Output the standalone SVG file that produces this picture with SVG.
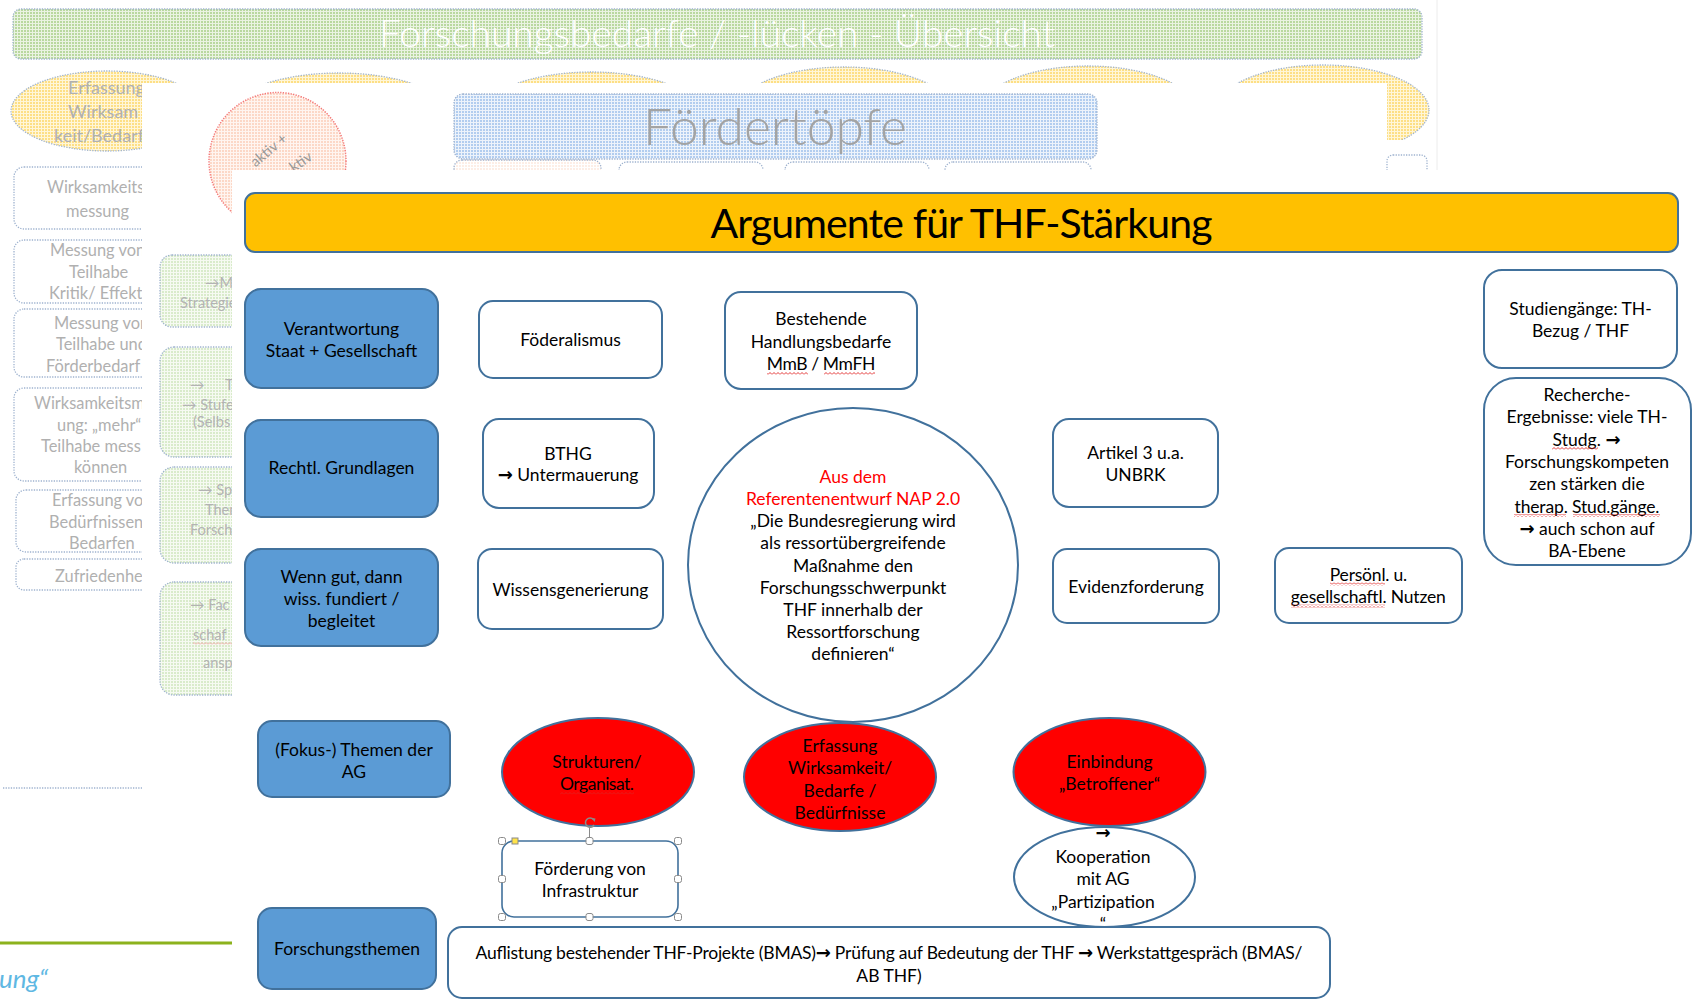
<svg xmlns="http://www.w3.org/2000/svg" width="1694" height="1001" viewBox="0 0 1694 1001">
<defs>
<style>
.t{font-family:Lato,'Liberation Sans','DejaVu Sans',sans-serif;font-size:17.5px;fill:#000;text-anchor:middle}
.red{fill:#FF0000}
.ar{font-family:'DejaVu Sans',sans-serif;font-size:18px;font-weight:bold}
.bt{font-family:Lato,'Liberation Sans','DejaVu Sans',sans-serif;font-size:16.4px;fill:#b0b0b0}
.gt{font-family:Lato,'Liberation Sans','DejaVu Sans',sans-serif;font-size:14.5px;fill:#b3b3b3}
.nb{fill:#5B9BD5;stroke:#41719C;stroke-width:2}
.nw{fill:#fff;stroke:#41719C;stroke-width:2}
.nr{fill:#FF0000;stroke:#41719C;stroke-width:2}
.dot{stroke:#9fb3cf;stroke-width:1.3;stroke-dasharray:1.3 1.3}
.sq{fill:url(#wavy)}
.hd{fill:#fff;stroke:#8a8a8a;stroke-width:1}
</style>
<pattern id="pG" width="3" height="3" patternUnits="userSpaceOnUse"><rect width="3" height="3" fill="#eaf3e2"/><rect width="2" height="2" fill="#b9d89f"/></pattern>
<pattern id="pY" width="3" height="3" patternUnits="userSpaceOnUse"><rect width="3" height="3" fill="#fff6d8"/><rect width="2" height="2" fill="#fddf85"/></pattern>
<pattern id="pB" width="3" height="3" patternUnits="userSpaceOnUse"><rect width="3" height="3" fill="#edf3fb"/><rect width="2" height="2" fill="#b2cdef"/></pattern>
<pattern id="pP" width="3" height="3" patternUnits="userSpaceOnUse"><rect width="3" height="3" fill="#fff5f0"/><rect width="2" height="2" fill="#fcd8c7"/></pattern>
<pattern id="pP2" width="3" height="3" patternUnits="userSpaceOnUse"><rect width="3" height="3" fill="#fff"/><rect width="2" height="2" fill="#fdeee6"/></pattern>
<pattern id="pL" width="3" height="3" patternUnits="userSpaceOnUse"><rect width="3" height="3" fill="#f6faf2"/><rect width="2" height="2" fill="#d9ebcb"/></pattern>
<pattern id="wavy" width="4" height="3" patternUnits="userSpaceOnUse"><path d="M0 2.5 L2 0.5 L4 2.5" fill="none" stroke="#e02020" stroke-width="0.9"/></pattern>
<pattern id="wavyF" width="4" height="3" patternUnits="userSpaceOnUse"><path d="M0 2.5 L2 0.5 L4 2.5" fill="none" stroke="#f3a5a5" stroke-width="0.9"/></pattern>
<clipPath id="cpL"><rect x="0" y="0" width="142" height="1001"/></clipPath>
<clipPath id="cpG"><rect x="0" y="0" width="232" height="1001"/></clipPath>
</defs>
<rect width="1694" height="1001" fill="#fff"/>

<g id="background">
  <g id="bg-banner">
    <rect x="13" y="9" width="1409" height="50" rx="8" fill="url(#pG)" class="dot"/>
    <text x="717" y="47" font-family="Lato,'Liberation Sans',sans-serif" font-size="37" font-weight="300" fill="#fff" text-anchor="middle" textLength="676" lengthAdjust="spacingAndGlyphs">Forschungsbedarfe / -lücken - Übersicht</text>
  </g>
  <g id="bg-ellipses">
    <ellipse cx="339" cy="118" rx="114" ry="45" fill="url(#pY)" class="dot"/>
    <ellipse cx="591.5" cy="117" rx="112" ry="45" fill="url(#pY)" class="dot"/>
    <ellipse cx="844" cy="112" rx="108" ry="45" fill="url(#pY)" class="dot"/>
    <ellipse cx="1088" cy="111" rx="107" ry="45" fill="url(#pY)" class="dot"/>
    <ellipse cx="1323" cy="110" rx="106" ry="45" fill="url(#pY)" class="dot"/>
    <ellipse cx="107" cy="111" rx="96" ry="40" fill="url(#pY)" class="dot"/>
    <g clip-path="url(#cpL)">
      <text class="bt" style="font-size:18px" x="68" y="94">Erfassung</text>
      <text class="bt" style="font-size:18px" x="68" y="118">Wirksam</text>
      <text class="bt" style="font-size:18px" x="54" y="142">keit/Bedarf</text>
    </g>
  </g>
  <g id="bg-left-boxes" clip-path="url(#cpL)">
    <rect x="14" y="167" width="220" height="62" rx="10" fill="#fff" class="dot"/>
    <text class="bt" x="47" y="193">Wirksamkeits</text>
    <text class="bt" x="66" y="216.5">messung</text>
    <rect x="14" y="240" width="220" height="63" rx="10" fill="#fff" class="dot"/>
    <text class="bt" x="50" y="256">Messung von</text>
    <text class="bt" x="69" y="277.5">Teilhabe</text>
    <text class="bt" x="49" y="299">Kritik/ Effekte</text>
    <rect x="14" y="309" width="220" height="68" rx="10" fill="#fff" class="dot"/>
    <text class="bt" x="54" y="328.5">Messung von</text>
    <text class="bt" x="56" y="350">Teilhabe und</text>
    <text class="bt" x="46" y="371.5">Förderbedarf</text>
    <rect x="14" y="388" width="220" height="93" rx="10" fill="#fff" class="dot"/>
    <text class="bt" x="34" y="408.5">Wirksamkeitsm</text>
    <text class="bt" x="57" y="431">ung: „mehr“</text>
    <text class="bt" x="41" y="452">Teilhabe mess</text>
    <text class="bt" x="74" y="472.5">können</text>
    <rect x="16" y="490" width="220" height="62" rx="10" fill="#fff" class="dot"/>
    <text class="bt" x="52" y="506">Erfassung von</text>
    <text class="bt" x="49" y="527.5">Bedürfnissen</text>
    <text class="bt" x="69" y="549">Bedarfen</text>
    <rect x="16" y="559" width="220" height="31" rx="8" fill="#fff" class="dot"/>
    <text class="bt" x="55" y="582">Zufriedenheit</text>
    <line x1="3" y1="788" x2="142" y2="788" class="dot"/>
  </g>
  <g id="bg-covers" fill="#fff">
    <rect x="142" y="83" width="1245" height="88"/>
    <rect x="1387" y="140" width="307" height="31"/>
    <rect x="142" y="170" width="92" height="831"/>
  </g>
  <line x1="1437" y1="0" x2="1437" y2="170" stroke="#ececec" stroke-width="1"/>
  <rect x="1387" y="155" width="40" height="40" rx="6" fill="#fff" class="dot"/>
  <g id="bg-pink">
    <circle cx="277.5" cy="161" r="68.5" fill="url(#pP)" stroke="#f47a7a" stroke-width="1.5" stroke-dasharray="1.3 1.3"/>
    <text class="gt" style="fill:#999" x="268.6" y="155" text-anchor="middle" transform="rotate(-40 268.6 150)">aktiv +</text>
    <text class="gt" style="fill:#999" x="300.7" y="166.7" text-anchor="middle" transform="rotate(-35 300.7 161.7)">ktiv</text>
  </g>
  <g id="bg-foerdertoepfe">
    <rect x="454" y="94" width="643" height="65" rx="9" fill="url(#pB)" class="dot"/>
    <text x="775" y="145" font-family="Lato,'Liberation Sans',sans-serif" font-size="52" font-weight="300" fill="#a3a3a3" text-anchor="middle" textLength="264" lengthAdjust="spacingAndGlyphs">Fördertöpfe</text>
    <rect x="454" y="160" width="147" height="40" rx="8" fill="url(#pP2)" class="dot"/>
    <rect x="619" y="162" width="144" height="40" rx="8" fill="#fff" class="dot"/>
    <rect x="785" y="162" width="144" height="40" rx="8" fill="#fff" class="dot"/>
    <rect x="945" y="162" width="146" height="40" rx="8" fill="#fff" class="dot"/>
  </g>
  <g id="bg-green-boxes" clip-path="url(#cpG)">
    <rect x="160" y="255" width="120" height="72" rx="12" fill="url(#pL)" class="dot"/>
    <text class="gt" x="205" y="288">→Ma</text>
    <text class="gt" x="180" y="308">Strategie</text>
    <rect x="160" y="347" width="120" height="110" rx="14" fill="url(#pL)" class="dot"/>
    <text class="gt" x="190" y="390">→</text>
    <text class="gt" x="225" y="390">Tei</text>
    <text class="gt" x="182" y="410">→ Stufe</text>
    <text class="gt" x="193" y="427">(Selbs</text>
    <rect x="160" y="467" width="120" height="96" rx="14" fill="url(#pL)" class="dot"/>
    <text class="gt" x="198" y="495">→ Sp</text>
    <text class="gt" x="205" y="515">Them</text>
    <text class="gt" x="190" y="535">Forschu</text>
    <rect x="160" y="582" width="120" height="113" rx="14" fill="url(#pL)" class="dot"/>
    <text class="gt" x="190" y="610">→ Fac</text>
    <text class="gt" x="193" y="640">schaf</text>
    <rect x="193" y="642" width="40" height="3" fill="url(#wavyF)"/>
    <text class="gt" x="203" y="668">ansp</text>
  </g>
  <rect x="0" y="941.5" width="232" height="3" fill="#8cb21c"/>
  <text x="-1" y="988" font-family="Lato,'Liberation Sans',sans-serif" font-style="italic" font-size="26" fill="#5fb8e3">ung“</text>
</g>

<rect id="slide-area" x="232" y="170" width="1462" height="831" fill="#fff"/>

<g id="connectors"></g>

<g id="title">
  <rect x="245" y="193" width="1433" height="59" rx="10" fill="#FFC000" stroke="#41719C" stroke-width="2"/>
  <text class="t" x="961.5" y="238" style="font-size:41px" textLength="502">Argumente für THF-Stärkung</text>
</g>

<g id="n-verantwortung">
  <rect class="nb" x="245" y="289" width="193" height="99" rx="16"/>
  <text class="t" x="341.5" y="335">Verantwortung</text>
  <text class="t" x="341.5" y="357">Staat + Gesellschaft</text>
</g>
<g id="n-rechtl">
  <rect class="nb" x="245" y="420" width="193" height="97" rx="16"/>
  <text class="t" x="341.5" y="474">Rechtl. Grundlagen</text>
</g>
<g id="n-wenngut">
  <rect class="nb" x="245" y="549" width="193" height="97" rx="16"/>
  <text class="t" x="341.5" y="582.5">Wenn gut, dann</text>
  <text class="t" x="341.5" y="604.5">wiss. fundiert /</text>
  <text class="t" x="341.5" y="626.5">begleitet</text>
</g>
<g id="n-fokus">
  <rect class="nb" x="258" y="721" width="192" height="76" rx="14"/>
  <text class="t" x="354" y="756">(Fokus-) Themen der</text>
  <text class="t" x="354" y="778">AG</text>
</g>
<g id="n-forschungsthemen">
  <rect class="nb" x="258" y="908" width="178" height="81" rx="14"/>
  <text class="t" x="347" y="955">Forschungsthemen</text>
</g>

<g id="n-foederalismus">
  <rect class="nw" x="479" y="301" width="183" height="77" rx="14"/>
  <text class="t" x="570.5" y="346">Föderalismus</text>
</g>
<g id="n-bestehende">
  <rect class="nw" x="725" y="292" width="192" height="97" rx="16"/>
  <text class="t" x="821" y="325">Bestehende</text>
  <text class="t" x="821" y="347.5">Handlungsbedarfe</text>
  <text class="t" x="821" y="370" textLength="108.5">MmB / MmFH</text>
  <rect class="sq" x="767" y="372" width="41" height="3"/>
  <rect class="sq" x="824" y="372" width="51" height="3"/>
</g>
<g id="n-bthg">
  <rect class="nw" x="483" y="419" width="171" height="89" rx="16"/>
  <text class="t" x="568" y="460">BTHG</text>
  <text class="t" x="568" y="481"><tspan class="ar">→</tspan> Untermauerung</text>
</g>
<g id="n-wissen">
  <rect class="nw" x="478" y="549" width="185" height="80" rx="14"/>
  <text class="t" x="570.5" y="596">Wissensgenerierung</text>
</g>
<g id="n-nap">
  <ellipse class="nw" cx="853" cy="565" rx="165" ry="157"/>
  <text class="t red" x="853" y="482.7">Aus dem</text>
  <text class="t red" x="853" y="504.9">Referentenentwurf NAP 2.0</text>
  <text class="t" x="853" y="527.1">„Die Bundesregierung wird</text>
  <text class="t" x="853" y="549.3">als ressortübergreifende</text>
  <text class="t" x="853" y="571.5">Maßnahme den</text>
  <text class="t" x="853" y="593.7">Forschungsschwerpunkt</text>
  <text class="t" x="853" y="615.9">THF innerhalb der</text>
  <text class="t" x="853" y="638.1">Ressortforschung</text>
  <text class="t" x="853" y="660.3">definieren“</text>
</g>
<g id="n-artikel">
  <rect class="nw" x="1053" y="419" width="165" height="88" rx="16"/>
  <text class="t" x="1135.5" y="459">Artikel 3 u.a.</text>
  <text class="t" x="1135.5" y="480.5">UNBRK</text>
</g>
<g id="n-evidenz">
  <rect class="nw" x="1053" y="549" width="166" height="74" rx="14"/>
  <text class="t" x="1136" y="593">Evidenzforderung</text>
</g>
<g id="n-persoenl">
  <rect class="nw" x="1275" y="548" width="187" height="75" rx="14"/>
  <text class="t" x="1368.5" y="581" textLength="77.5">Persönl. u.</text>
  <text class="t" x="1368.3" y="603" textLength="155">gesellschaftl. Nutzen</text>
  <rect class="sq" x="1330" y="582.5" width="55" height="3"/>
  <rect class="sq" x="1291" y="604.5" width="94" height="3"/>
</g>
<g id="n-studiengaenge">
  <rect class="nw" x="1484" y="270" width="193" height="98" rx="18"/>
  <text class="t" x="1580.5" y="315">Studiengänge: TH-</text>
  <text class="t" x="1580.5" y="337">Bezug / THF</text>
</g>
<g id="n-recherche">
  <rect class="nw" x="1484" y="378" width="207" height="187" rx="32"/>
  <text class="t" x="1587" y="401">Recherche-</text>
  <text class="t" x="1587" y="423.3">Ergebnisse: viele TH-</text>
  <text class="t" x="1586.5" y="445.6" textLength="68">Studg. <tspan class="ar">→</tspan></text>
  <text class="t" x="1587" y="467.9">Forschungskompeten</text>
  <text class="t" x="1587" y="490.2">zen stärken die</text>
  <text class="t" x="1587" y="512.5" textLength="145">therap. Stud.gänge.</text>
  <text class="t" x="1587" y="534.8"><tspan class="ar">→</tspan> auch schon auf</text>
  <text class="t" x="1587" y="557.1">BA-Ebene</text>
  <rect class="sq" x="1552" y="447" width="46" height="3"/>
  <rect class="sq" x="1514" y="514" width="52" height="3"/>
  <rect class="sq" x="1573" y="514" width="87" height="3"/>
</g>

<g id="n-strukturen">
  <ellipse class="nr" cx="598" cy="772" rx="96" ry="54"/>
  <text class="t" x="597" y="768">Strukturen/</text>
  <text class="t" x="597" y="790" textLength="74">Organisat.</text>
  <rect class="sq" x="560" y="791.5" width="74" height="3"/>
</g>
<g id="n-erfassung">
  <ellipse class="nr" cx="840" cy="777" rx="96" ry="54"/>
  <text class="t" x="840" y="752">Erfassung</text>
  <text class="t" x="840" y="774.3">Wirksamkeit/</text>
  <text class="t" x="840" y="796.6">Bedarfe /</text>
  <text class="t" x="840" y="818.9">Bedürfnisse</text>
</g>
<g id="n-einbindung">
  <ellipse class="nr" cx="1109.5" cy="772" rx="96" ry="54"/>
  <text class="t" x="1109.5" y="768">Einbindung</text>
  <text class="t" x="1109.5" y="790">„Betroffener“</text>
</g>
<g id="n-kooperation">
  <ellipse class="nw" cx="1104.5" cy="877" rx="90.5" ry="50"/>
  <text class="t" x="1103" y="839"><tspan class="ar">→</tspan></text>
  <text class="t" x="1103" y="862.7">Kooperation</text>
  <text class="t" x="1103" y="885.3">mit AG</text>
  <text class="t" x="1103" y="907.7">„Partizipation</text>
  <text class="t" x="1103" y="930">“</text>
</g>
<g id="n-foerderung">
  <rect x="502" y="841" width="176" height="76" rx="12" fill="#fff" stroke="#41719C" stroke-width="1.6"/>
  <text class="t" x="590" y="875">Förderung von</text>
  <text class="t" x="590" y="897">Infrastruktur</text>
  <g id="selection-handles">
    <line x1="589.5" y1="827" x2="589.5" y2="838" stroke="#8a8a8a" stroke-width="1"/>
    <path d="M593.5 819.5 A4.6 4.6 0 1 0 594 825" fill="none" stroke="#8a8a8a" stroke-width="1.6"/>
    <path d="M591.5 818 L595.5 818.5 L594.5 822 Z" fill="#8a8a8a"/>
    <rect class="hd" x="498.5" y="837.5" width="7" height="7" rx="2"/>
    <rect class="hd" x="586" y="837.5" width="7" height="7" rx="2"/>
    <rect class="hd" x="674.5" y="837.5" width="7" height="7" rx="2"/>
    <rect class="hd" x="498.5" y="875.5" width="7" height="7" rx="2"/>
    <rect class="hd" x="674.5" y="875.5" width="7" height="7" rx="2"/>
    <rect class="hd" x="498.5" y="913.5" width="7" height="7" rx="2"/>
    <rect class="hd" x="586" y="913.5" width="7" height="7" rx="2"/>
    <rect class="hd" x="674.5" y="913.5" width="7" height="7" rx="2"/>
    <rect x="512" y="838" width="6" height="6" fill="#ffe34a" stroke="#8a8a8a" stroke-width="1"/>
  </g>
</g>
<g id="n-auflistung">
  <rect class="nw" x="448" y="927" width="882" height="71" rx="14"/>
  <text class="t" x="889" y="959.3" textLength="827">Auflistung bestehender THF-Projekte (BMAS)<tspan class="ar">→</tspan> Prüfung auf Bedeutung der THF <tspan class="ar">→</tspan> Werkstattgespräch (BMAS/</text>
  <text class="t" x="889" y="982">AB THF)</text>
</g>
</svg>
